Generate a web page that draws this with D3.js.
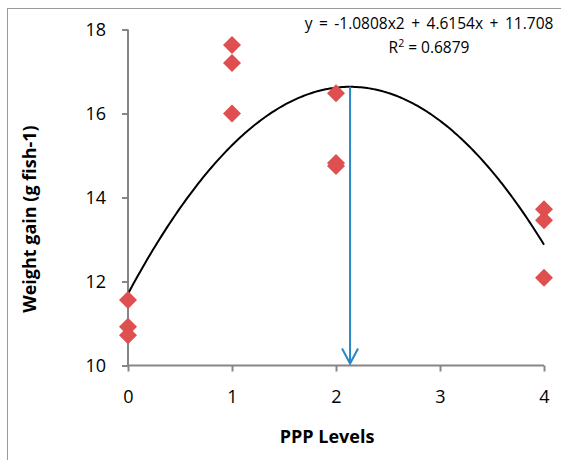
<!DOCTYPE html>
<html>
<head>
<meta charset="utf-8">
<script src="https://cdn.jsdelivr.net/npm/d3@7"></script>
<style>
  body { margin: 0; background: #fff; }
  svg { display: block; font-family: "Open Sans", Lato, sans-serif; }
</style>
</head>
<body>
<svg id="svg" width="561" height="460"></svg>
<script>
// data
const levels  = [0, 0, 0, 1, 1, 1, 2, 2, 2, 4, 4, 4];
const weights = [11.56, 10.92, 10.72, 17.63, 17.2, 16.0, 16.48, 14.82, 14.75, 13.72, 13.46, 12.09];
const coef    = [-1.0808, 4.6154, 11.708];   // a, b, c of the fitted quadratic
const xTicks  = [0, 1, 2, 3, 4];
const yTicks  = [10, 12, 14, 16, 18];

const W = 561, H = 460;
const svg = d3.select('#svg');

const x = d3.scaleLinear().domain([0, 4]).range([128, 544]);
const y = d3.scaleLinear().domain([10, 18]).range([365.5, 29.5]);

// outer chart frame (only top + left show)
svg.append('rect').attr('x', 7.5).attr('y', 8.5).attr('width', W + 20).attr('height', H + 20)
  .attr('fill', 'none').attr('stroke', '#9a9a9a').attr('stroke-width', 1);

// AXES
const axisCol = '#868686';
const gy = svg.append('g').attr('transform', `translate(${x(0)},0)`)
  .call(d3.axisLeft(y).tickValues(yTicks).tickFormat(d3.format('d')).tickSize(6).tickPadding(16));
const gx = svg.append('g').attr('transform', `translate(0,${y(10)})`)
  .call(d3.axisBottom(x).tickValues(xTicks).tickFormat(d3.format('d')).tickSize(6).tickPadding(19));
[gx, gy].forEach(g => {
  g.select('.domain').attr('stroke', axisCol).attr('stroke-width', 2);
  g.selectAll('.tick line').attr('stroke', axisCol).attr('stroke-width', 2);
  g.selectAll('.tick text').attr('fill', '#000').attr('font-size', '18px')
    .attr('font-family', '"Open Sans", Lato, sans-serif');
});
gx.select('.domain').attr('d', `M${x(0)},0H${x(4)}`);
gy.select('.domain').attr('d', `M0,${y(10)}V${y(18)}`);

// axis titles
svg.append('text').attr('x', 327).attr('y', 443).attr('text-anchor', 'middle')
  .attr('font-size', '18px').attr('font-weight', 700).text('PPP Levels');
svg.append('text').attr('transform', 'translate(36,219) rotate(-90)').attr('text-anchor', 'middle')
  .attr('font-size', '18px').attr('font-weight', 700).text('Weight gain (g fish-1)');

// FIT CURVE
const fit = v => coef[0] * v * v + coef[1] * v + coef[2];
const curveX = d3.range(0, 4.0001, 0.02);
svg.append('path').datum(curveX)
  .attr('d', d3.line().x(d => x(d)).y(d => y(fit(d))))
  .attr('fill', 'none').attr('stroke', '#000').attr('stroke-width', 2);

// ARROW from the vertex down to the x axis
const vx = -coef[1] / (2 * coef[0]);
const blue = '#2b86c5';
svg.append('line').attr('x1', x(vx)).attr('x2', x(vx)).attr('y1', y(fit(vx))).attr('y2', y(10) - 2)
  .attr('stroke', blue).attr('stroke-width', 2);
svg.append('path')
  .attr('d', `M${x(vx) - 8},${y(10) - 17}L${x(vx)},${y(10) - 2}L${x(vx) + 8},${y(10) - 17}`)
  .attr('fill', 'none').attr('stroke', blue).attr('stroke-width', 2);

// POINTS
svg.append('g').selectAll('path').data(levels).join('path')
  .attr('transform', (d, i) => `translate(${x(d)},${y(weights[i])})`)
  .attr('d', 'M0,-9L9,0L0,9L-9,0Z')
  .attr('fill', '#df4f4f');

// equation label
svg.append('text').attr('x', 429).attr('y', 29).attr('text-anchor', 'middle')
  .attr('font-size', '15.5px').attr('word-spacing', '2.5px').text('y = -1.0808x2 + 4.6154x + 11.708');
const r2 = svg.append('text').attr('x', 429).attr('y', 53).attr('text-anchor', 'middle')
  .attr('font-size', '15.5px');
r2.append('tspan').text('R');
r2.append('tspan').attr('dy', -6).attr('font-size', '10.5px').text('2');
r2.append('tspan').attr('dy', 6).text(' = 0.6879');
</script>
</body>
</html>
